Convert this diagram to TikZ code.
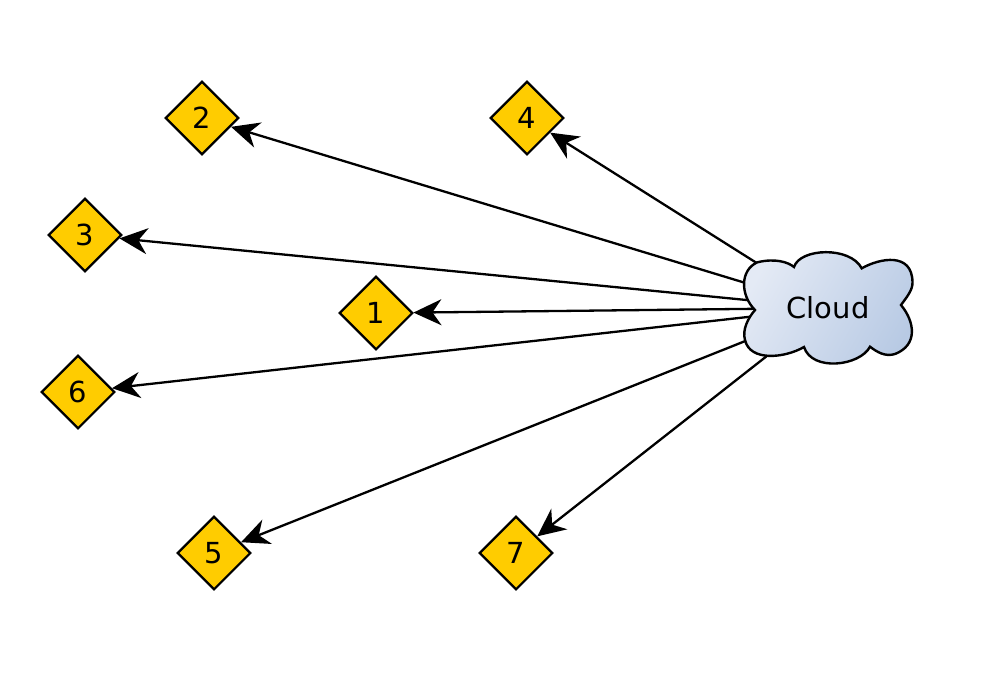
\documentclass[tikz,border=0pt]{standalone}
\usepackage{fontspec}
\setmainfont{DejaVu Sans}
\usetikzlibrary{shapes.geometric,arrows.meta}
\definecolor{gold}{HTML}{FFCC00}
\definecolor{cloudA}{HTML}{E4EAF5}
\definecolor{cloudB}{HTML}{B8CAE4}
\pgfdeclarelayer{edges}
\pgfdeclarelayer{cloudbody}
\pgfsetlayers{edges,cloudbody,main}
\tikzset{
  gem/.style={diamond,draw=black,fill=gold,line width=2.2pt,minimum width=73.5pt,minimum height=73.5pt,inner sep=0pt,font=\fontsize{29}{31}\selectfont},
  link/.style={draw=black,line width=2.3pt,-{Stealth[length=28pt,width=26pt,inset=9pt]}},
  cloudshape/.style={draw=black,line width=2.4pt,left color=cloudA,right color=cloudB,shading angle=60},
  cloudtext/.style={inner sep=0pt,font=\fontsize{29}{31}\selectfont}
}
\begin{document}
\begin{tikzpicture}[x=1pt,y=-1pt]
\useasboundingbox (0,0) rectangle (992,697);
\node[gem] (n1) at (376,313) {1};
\node[gem] (n2) at (202,118) {2};
\node[gem] (n3) at (85,235) {3};
\node[gem] (n4) at (527,118) {4};
\node[gem] (n5) at (214,553) {5};
\node[gem] (n6) at (78,392) {6};
\node[gem] (n7) at (516,553) {7};
\node[cloudtext] (cloud) at (828,308) {Cloud};
\begin{pgfonlayer}{edges}
\foreach \t in {n1,n2,n3,n4,n5,n6,n7}
  \draw[link] (cloud.center) -- (\t);
\end{pgfonlayer}
\begin{pgfonlayer}{cloudbody}
\path[cloudshape] (757.3,262.3)
  .. controls (775,258) and (788,262) .. (794,267)
  .. controls (800,248) and (850,246) .. (861.7,268.3)
  .. controls (880,258) and (912,252) .. (912.5,282)
  .. controls (913,290) and (906,298) .. (901,305)
  .. controls (915,322) and (918,345) .. (895,354)
  .. controls (885,357) and (877,352) .. (870,346.7)
  .. controls (860,366) and (812,372) .. (804,347)
  .. controls (785,358) and (750,362) .. (745,340)
  .. controls (742,330) and (748,318) .. (755,310)
  .. controls (740,295) and (740,270) .. (757.3,262.3) -- cycle;
\end{pgfonlayer}
\end{tikzpicture}
\end{document}
